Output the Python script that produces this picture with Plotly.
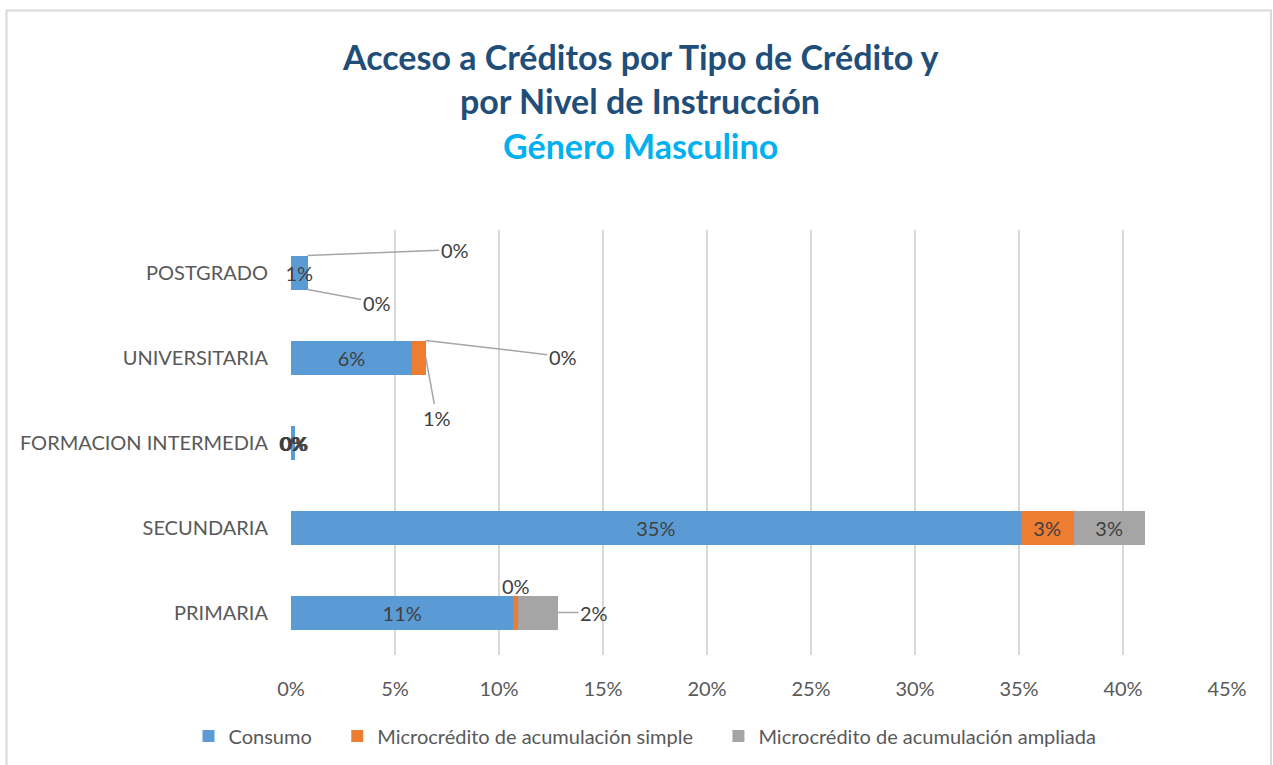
import plotly.graph_objects as go

categories = ["PRIMARIA", "SECUNDARIA", "FORMACION INTERMEDIA", "UNIVERSITARIA", "POSTGRADO"]
series_names = ["Consumo", "Microcrédito de acumulación simple", "Microcrédito de acumulación ampliada"]
consumo = [10.69, 35.08, 0.17, 5.82, 0.80]
simple = [0.21, 2.55, 0.0, 0.66, 0.0]
ampliada = [1.94, 3.41, 0.0, 0.0, 0.0]
x_ticks = [0, 5, 10, 15, 20, 25, 30, 35, 40, 45]

colors = ["#5B9BD5", "#ED7D31", "#A5A5A5"]
series = [consumo, simple, ampliada]
FONT = "Lato"
TXT = "#404040"
FS = 20

L, R, T, B = 291, 46, 230, 110
PW, PH = 1273 - L - R, 765 - T - B
bottom_pix = 765 - B

label_mode = {
    (0, 1): ("free", 0, -27),
    (0, 2): ("mid", 36, 0),
    (2, 1): ("free", 1, 0),
    (2, 2): ("free", 2, 0),
    (3, 1): ("mid", 11, 60),
    (3, 2): ("top", 137, 16),
    (4, 1): ("bottom", 69, 13),
    (4, 2): ("top", 147, -6),
}

fig = go.Figure()
for s, (name, vals) in enumerate(zip(series_names, series)):
    texts = []
    for i, v in enumerate(vals):
        texts.append("" if (i, s) in label_mode or v == 0 else f"{round(v)}%")
    fig.add_trace(go.Bar(
        y=categories, x=vals, name=name + "\u00a0" * (4 if s < 2 else 0), orientation="h",
        marker=dict(color=colors[s], line=dict(width=0)),
        text=texts, textposition="inside", insidetextanchor="middle", textangle=0,
        constraintext="none", cliponaxis=False,
        textfont=dict(family=FONT, size=FS, color=TXT),
        hoverinfo="skip",
    ))

annotations = []
for (i, s), (kind, ax, ay) in label_mode.items():
    start = sum(series[k][i] for k in range(s))
    end = start + series[s][i]
    label = f"{round(series[s][i])}%"
    if kind == "free":
        if i == 2:
            start, end = 0, consumo[i]
        annotations.append(dict(x=(start + end) / 2, y=i, xref="x", yref="y", text=label,
                                showarrow=False, yshift=-ay, xshift=ax,
                                font=dict(family=FONT, size=FS, color=TXT)))
        continue
    dy = {"mid": 0, "top": 0.2, "bottom": -0.2}[kind]
    annotations.append(dict(x=end, y=i + dy, xref="x", yref="y", text=label,
                            showarrow=True, arrowhead=0, arrowwidth=1.5, arrowcolor="#A6A6A6",
                            ax=ax, ay=ay, standoff=0, startstandoff=0,
                            font=dict(family=FONT, size=FS, color=TXT)))

title_lines = [
    ("Acceso a Créditos por Tipo de Crédito y", "#1F4E79", 56),
    ("por Nivel de Instrucción", "#1F4E79", 100),
    ("Género Masculino", "#00B0F0", 145),
]
for t, c, ypix in title_lines:
    annotations.append(dict(x=(640 - L) / PW, xref="paper", y=(bottom_pix - ypix) / PH, yref="paper",
                            text=f"<b>{t}</b>", showarrow=False, xanchor="center", yanchor="middle",
                            font=dict(family=FONT, size=34, color=c)))

fig.update_layout(
    width=1273, height=765,
    margin=dict(l=L, r=R, t=T, b=B, autoexpand=False),
    barmode="stack", bargap=0.6,
    paper_bgcolor="white", plot_bgcolor="white",
    showlegend=True,
    legend=dict(orientation="h", x=(645 - L) / PW, xanchor="center", xref="paper",
                y=(765 - 736) / 765, yanchor="middle", yref="container",
                font=dict(family=FONT, size=20, color="#595959"), traceorder="normal",
                itemwidth=30),
    annotations=annotations,
    shapes=[dict(type="rect", xref="paper", yref="paper",
                 x0=(6.5 - L) / PW, x1=(1271 - L) / PW,
                 y0=-0.5, y1=(bottom_pix - 10.5) / PH,
                 line=dict(color="#D9D9D9", width=2), fillcolor="rgba(0,0,0,0)", layer="below")],
)
fig.update_xaxes(range=[0, 45], tickvals=x_ticks, ticktext=[f"{t}%" for t in x_ticks],
                 showgrid=True, gridcolor="#D9D9D9", gridwidth=2, zeroline=False,
                 showline=False, ticks="", ticklabelstandoff=20,
                 tickfont=dict(family=FONT, size=FS, color="#595959"), fixedrange=True)
fig.update_yaxes(categoryorder="array", categoryarray=categories, showgrid=False,
                 showline=False, ticks="", ticklabelstandoff=22,
                 tickfont=dict(family=FONT, size=FS, color="#595959"), fixedrange=True)

fig.write_html("out.html", config={"displayModeBar": False},
               post_script="document.body.style.margin='0';document.body.style.overflow='hidden';")
